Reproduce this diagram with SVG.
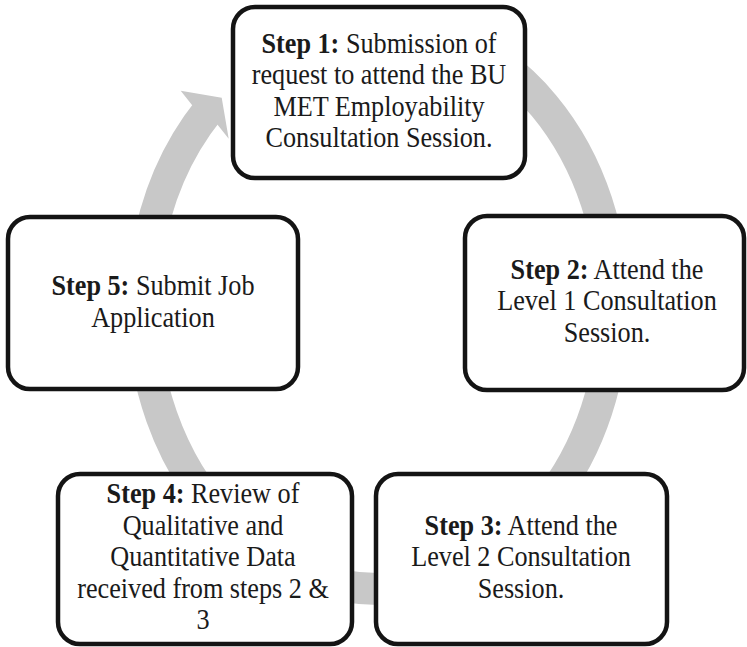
<svg xmlns="http://www.w3.org/2000/svg" width="747" height="647" viewBox="0 0 747 647">
<style>
.box{fill:#fff;stroke:#141414;stroke-width:4.5}
.t{font-family:"Liberation Serif","Times New Roman",serif;font-size:26.2px;fill:#1a1a1a;text-anchor:middle}
.b{font-weight:bold}
.ring{fill:none;stroke:#c8c8c8;stroke-width:32}
.head{fill:#c8c8c8}
</style>
<rect width="747" height="647" fill="#fff"/>
<g id="connectors">
<path class="ring" d="M378,23 A235,283 0 0 1 378,589 A235,283 0 0 1 208.95,109.41"/>
<polygon class="head" points="192,105.1 180.7,90.8 221.7,97.8 228.7,138.8 217.4,124.5"/>
</g>
<g id="step1">
<rect class="box" x="233" y="7" width="292" height="171" rx="22"/>
<text class="t" transform="scale(1,1.16)"><tspan x="379" y="45.69"><tspan class="b">Step 1:</tspan> Submission of</tspan><tspan x="379" y="72.84">request to attend the BU</tspan><tspan x="379" y="100">MET Employability</tspan><tspan x="379" y="127.16">Consultation Session.</tspan></text>
</g>
<g id="step2">
<rect class="box" x="465" y="216" width="279" height="174" rx="22"/>
<text class="t" transform="scale(1,1.16)"><tspan x="607" y="240.52"><tspan class="b">Step 2:</tspan> Attend the</tspan><tspan x="607" y="267.67">Level 1 Consultation</tspan><tspan x="607" y="294.83">Session.</tspan></text>
</g>
<g id="step3">
<rect class="box" x="376" y="474" width="291" height="170" rx="22"/>
<text class="t" transform="scale(1,1.16)"><tspan x="521" y="461.21"><tspan class="b">Step 3:</tspan> Attend the</tspan><tspan x="521" y="488.36">Level 2 Consultation</tspan><tspan x="521" y="515.52">Session.</tspan></text>
</g>
<g id="step4">
<rect class="box" x="58" y="474" width="294" height="170" rx="22"/>
<text class="t" transform="scale(1,1.16)"><tspan x="203" y="434.05"><tspan class="b">Step 4:</tspan> Review of</tspan><tspan x="203" y="461.21">Qualitative and</tspan><tspan x="203" y="488.36">Quantitative Data</tspan><tspan x="203" y="515.52">received from steps 2 &amp;</tspan><tspan x="203" y="542.67">3</tspan></text>
</g>
<g id="step5">
<rect class="box" x="8" y="217" width="290" height="172" rx="22"/>
<text class="t" transform="scale(1,1.16)"><tspan x="153" y="254.31"><tspan class="b">Step 5:</tspan> Submit Job</tspan><tspan x="153" y="281.9">Application</tspan></text>
</g>
</svg>
